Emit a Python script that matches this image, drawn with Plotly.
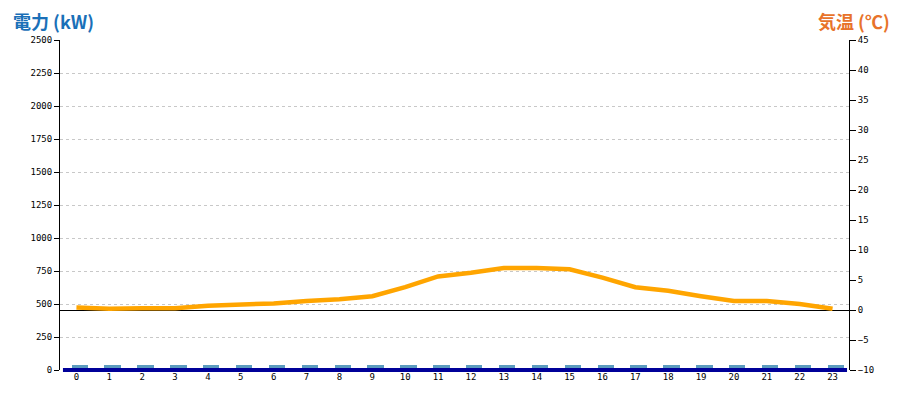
import plotly.graph_objects as go

hours = list(range(24))
hour_labels = [str(h) for h in hours]
power_kw = [38, 38, 38, 38, 38, 38, 38, 38, 38, 38, 38, 38,
            38, 38, 38, 38, 38, 38, 38, 38, 38, 38, 38, 38]
temp_c = [0.4, 0.2, 0.3, 0.3, 0.7, 0.9, 1.1, 1.5, 1.8, 2.3, 3.8, 5.6,
          6.2, 7.0, 7.0, 6.8, 5.4, 3.8, 3.2, 2.3, 1.5, 1.5, 1.0, 0.2]
left_ticks = [0, 250, 500, 750, 1000, 1250, 1500, 1750, 2000, 2250, 2500]
right_ticks = [-10, -5, 0, 5, 10, 15, 20, 25, 30, 35, 40, 45]

tick_font = dict(family="DejaVu Sans Mono", size=9, color="black")

fig = go.Figure()
fig.add_trace(go.Bar(x=hours, y=power_kw, width=0.5, offset=-0.15,
                     marker=dict(color="#5b9bbf", line=dict(width=0)),
                     yaxis="y", showlegend=False, hoverinfo="skip"))
fig.add_trace(go.Scatter(x=hours, y=temp_c, mode="lines",
                         line=dict(color="#ffa500", width=4.5),
                         yaxis="y2", showlegend=False))

fig.update_layout(
    width=892, height=392,
    margin=dict(l=52, r=51, t=32, b=30, autoexpand=False),
    paper_bgcolor="white", plot_bgcolor="white",
    bargap=0,
    xaxis=dict(range=[-0.5, 23.5], tickvals=hours, ticktext=hour_labels,
               showgrid=False, zeroline=False, showline=False, ticks="",
               tickfont=tick_font, fixedrange=True),
    yaxis=dict(range=[0, 2500], tickvals=left_ticks,
               showgrid=True, gridcolor="#c8c8c8", griddash="dot", gridwidth=1,
               zeroline=False, showline=True, linecolor="black", linewidth=1,
               ticks="outside", ticklen=5, tickcolor="black",
               tickfont=tick_font),
    yaxis2=dict(range=[-10, 45], tickvals=right_ticks, overlaying="y",
                side="right", showgrid=False, zeroline=True,
                zerolinecolor="black", zerolinewidth=1,
                showline=True, linecolor="black", linewidth=1,
                ticks="outside", ticklen=6, tickcolor="black",
                tickfont=tick_font),
    shapes=[dict(type="rect", xref="x", yref="paper", x0=-0.41, x1=23.44,
                 y0=-0.006, y1=0.006, fillcolor="#000099",
                 line=dict(width=0), layer="above")],
    annotations=[
        dict(text="<b>電力 (kW)</b>", xref="paper", yref="paper",
             x=-0.062, y=1.0, yshift=19, xanchor="left", yanchor="middle",
             showarrow=False,
             font=dict(family="Noto Sans CJK JP", size=18, color="#1a70b8")),
        dict(text="<b>気温 (℃)</b>", xref="paper", yref="paper",
             x=1.054, y=1.0, yshift=19, xanchor="right", yanchor="middle",
             showarrow=False,
             font=dict(family="Noto Sans CJK JP", size=18, color="#e8732a")),
    ],
)

fig.write_html("out.html")
